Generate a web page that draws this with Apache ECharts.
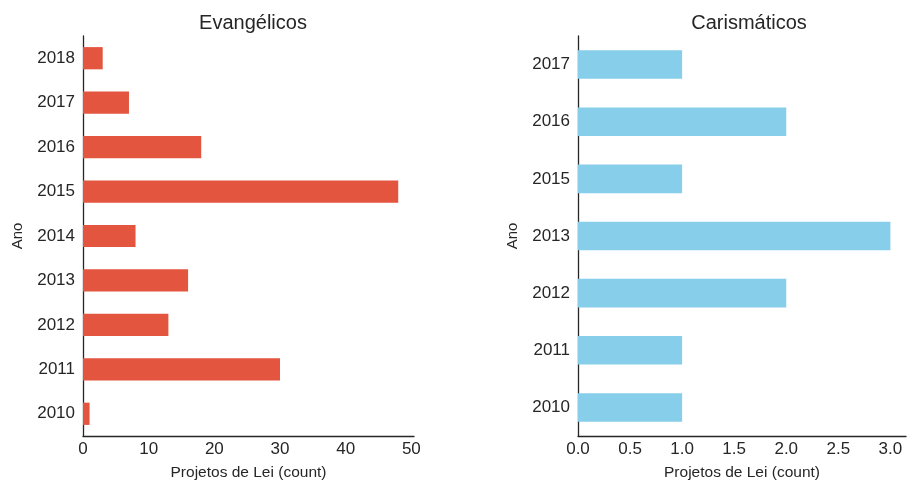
<!DOCTYPE html>
<html>
<head>
<meta charset="utf-8">
<script src="https://cdn.jsdelivr.net/npm/echarts@6/dist/echarts.min.js"></script>
<style>
html,body{margin:0;padding:0;background:#fff;}
#c{width:909px;height:486px;}
</style>
</head>
<body>
<div id="c"></div>
<script>
const evCategories = ['2010','2011','2012','2013','2014','2015','2016','2017','2018'];
const evValues = [1, 30, 13, 16, 8, 48, 18, 7, 3];
const caCategories = ['2010','2011','2012','2013','2015','2016','2017'];
const caValues = [1, 1, 2, 3, 1, 2, 1];
const evTicks = [0, 10, 20, 30, 40, 50];
const caTicks = [0.0, 0.5, 1.0, 1.5, 2.0, 2.5, 3.0];

const FONT = 'Liberation Sans, Arial, sans-serif';
const TXT = '#262626';
const chart = echarts.init(document.getElementById('c'), null, {renderer:'canvas'});

function xAxis(gi, max, interval, ticks, decimals){
  return {
    type:'value', gridIndex:gi, min:0, max:max, interval:interval,
    name:'Projetos de Lei (count)', nameLocation:'middle', nameGap:29,
    nameTextStyle:{color:TXT, fontSize:15.5, fontFamily:FONT},
    axisLine:{show:true, lineStyle:{color:TXT, width:1.3}},
    axisTick:{show:false}, splitLine:{show:false},
    axisLabel:{color:TXT, fontSize:17, fontFamily:FONT, margin:5,
      showMaxLabel:true,
      formatter:function(v){
        const t = ticks.find(function(x){return Math.abs(x-v)<1e-9;});
        if(t===undefined) return '';
        return decimals ? t.toFixed(decimals) : String(t);
      }}
  };
}
function yAxis(gi, cats){
  return {
    type:'category', gridIndex:gi, data:cats,
    name:'Ano', nameLocation:'middle', nameGap:58, nameRotate:90,
    nameTextStyle:{color:TXT, fontSize:15, fontFamily:FONT},
    axisLine:{show:true, lineStyle:{color:TXT, width:1.3}},
    axisTick:{show:false}, splitLine:{show:false},
    axisLabel:{color:TXT, fontSize:17, fontFamily:FONT, margin:8}
  };
}

chart.setOption({
  backgroundColor:'#ffffff',
  animation:false,
  title:[
    {text:'Evangélicos', left:248, top:8, textAlign:'center',
     textStyle:{color:TXT, fontSize:20, fontWeight:'normal', fontFamily:FONT}},
    {text:'Carismáticos', left:744, top:8, textAlign:'center',
     textStyle:{color:TXT, fontSize:20, fontWeight:'normal', fontFamily:FONT}}
  ],
  grid:[
    {left:83, top:36, width:331, height:403},
    {left:578, top:36, width:333, height:403}
  ],
  xAxis:[xAxis(0, 50.4, 10, evTicks, 0), xAxis(1, 3.15, 0.5, caTicks, 1)],
  yAxis:[yAxis(0, evCategories), yAxis(1, caCategories)],
  series:[
    {type:'bar', xAxisIndex:0, yAxisIndex:0, data:evValues, barWidth:'50%',
     itemStyle:{color:'#e3553f'}},
    {type:'bar', xAxisIndex:1, yAxisIndex:1, data:caValues, barWidth:'50%',
     itemStyle:{color:'#87ceeb'}}
  ]
});
</script>
</body>
</html>
